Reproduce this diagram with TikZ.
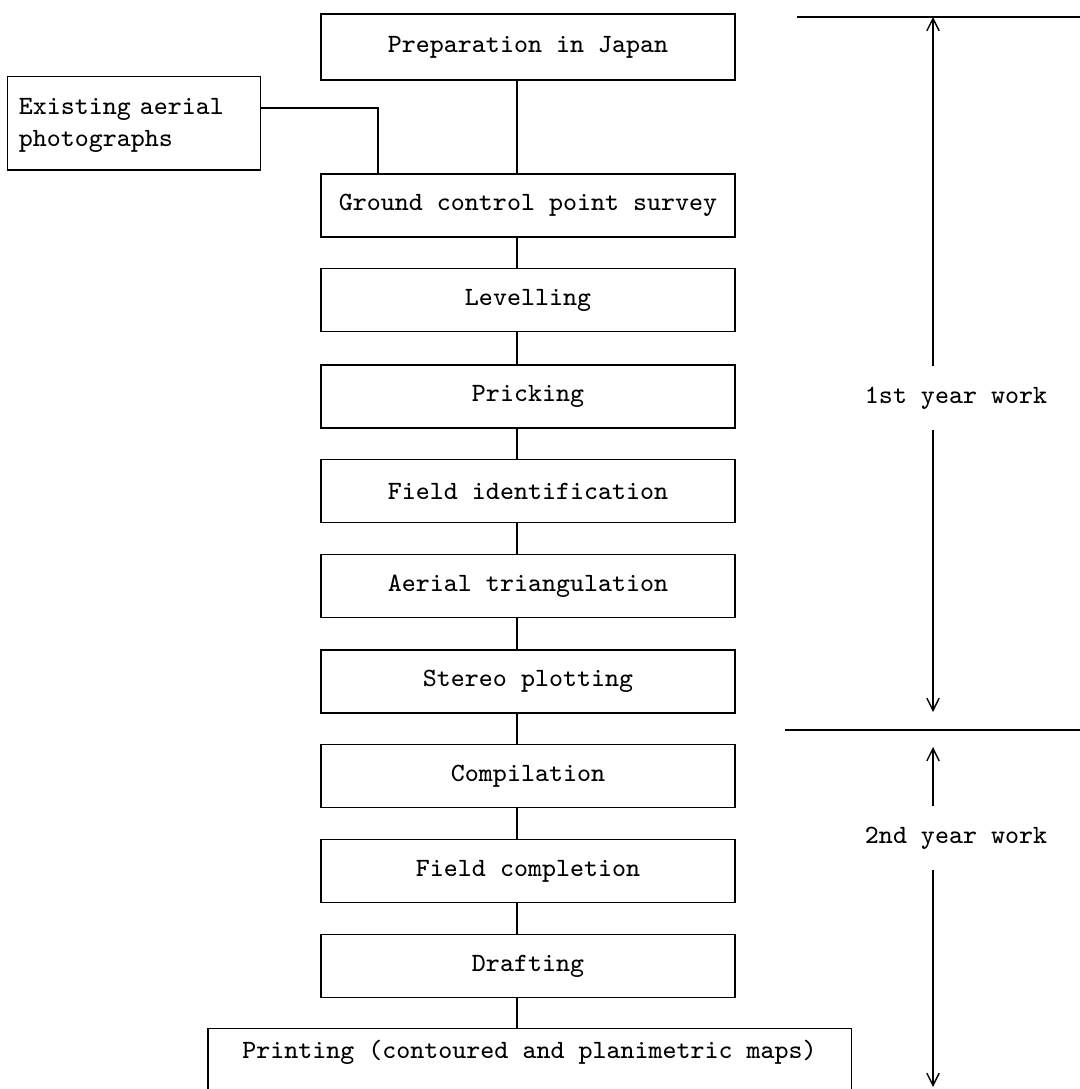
\documentclass[tikz,border=0pt]{standalone}
\usepackage{tikz}
\usetikzlibrary{arrows.meta,positioning}

\tikzset{
  stepbox/.style={draw, thin, minimum width=4.14cm, minimum height=0.63cm,
    font=\ttfamily\fontsize{7.5}{9}\selectfont},
  yeartext/.style={inner sep=0pt, font=\ttfamily\fontsize{7.5}{9}\selectfont},
  span/.style={thin, -{Straight Barb[length=3.5pt,width=3.5pt]}}
}

\begin{document}
\begin{tikzpicture}[x=0.01cm,y=-0.01cm]
  \useasboundingbox (0,0) rectangle (1080,1089);
  % main column
  \node[stepbox, minimum height=0.66cm] (prep) at (528,47) {Preparation in Japan};
  \node[stepbox] (gcp) at (528,205.5) {Ground control point survey};
  \node[stepbox] (lev) at (528,300) {Levelling};
  \node[stepbox] (prick) at (528,396.5) {Pricking};
  \node[stepbox] (fieldid) at (528,491) {Field identification};
  \node[stepbox] (aerial) at (528,586) {Aerial triangulation};
  \node[stepbox] (stereo) at (528,681.5) {Stereo plotting};
  \node[stepbox] (comp) at (528,776) {Compilation};
  \node[stepbox] (fieldc) at (528,871) {Field completion};
  \node[stepbox] (draft) at (528,966) {Drafting};
  \node[stepbox, anchor=north, minimum width=6.43cm, text depth=1.2cm] (print) at (529.5,1028)
    {Printing (contoured and planimetric maps)};
  \node[stepbox, anchor=north, align=left, minimum width=2.5cm, text width=2.3cm,
        text height=0.26cm, text depth=0.44cm] (exist) at (134,76)
    {Existing aerial\\photographs};

  \coordinate (spine) at (517,0);
  \foreach \a/\b in {prep/gcp, gcp/lev, lev/prick, prick/fieldid, fieldid/aerial,
                     aerial/stereo, stereo/comp, comp/fieldc, fieldc/draft, draft/print}
    \draw[thin] (\a.south -| spine) -- (\b.north -| spine);
  \coordinate (elbow) at (378,108);
  \draw[thin] (exist.east |- elbow) -| (gcp.north -| elbow);

  % year spans
  \draw[thin] (797,17) -- (1080,17);
  \draw[thin] (785,730) -- (1080,730);
  \coordinate (yr1top) at (933,17);
  \coordinate (yr1bot) at (933,712);
  \node[yeartext, minimum height=0.63cm] (yr1) at (956,398) {1st year work};
  \draw[span] (yr1.north -| yr1top) -- (yr1top);
  \draw[span] (yr1.south -| yr1top) -- (yr1bot);
  \coordinate (yr2top) at (933,747);
  \coordinate (yr2bot) at (933,1087);
  \node[yeartext, minimum height=0.63cm] (yr2) at (956,838) {2nd year work};
  \draw[span] (yr2.north -| yr2top) -- (yr2top);
  \draw[span] (yr2.south -| yr2top) -- (yr2bot);
\end{tikzpicture}
\end{document}
